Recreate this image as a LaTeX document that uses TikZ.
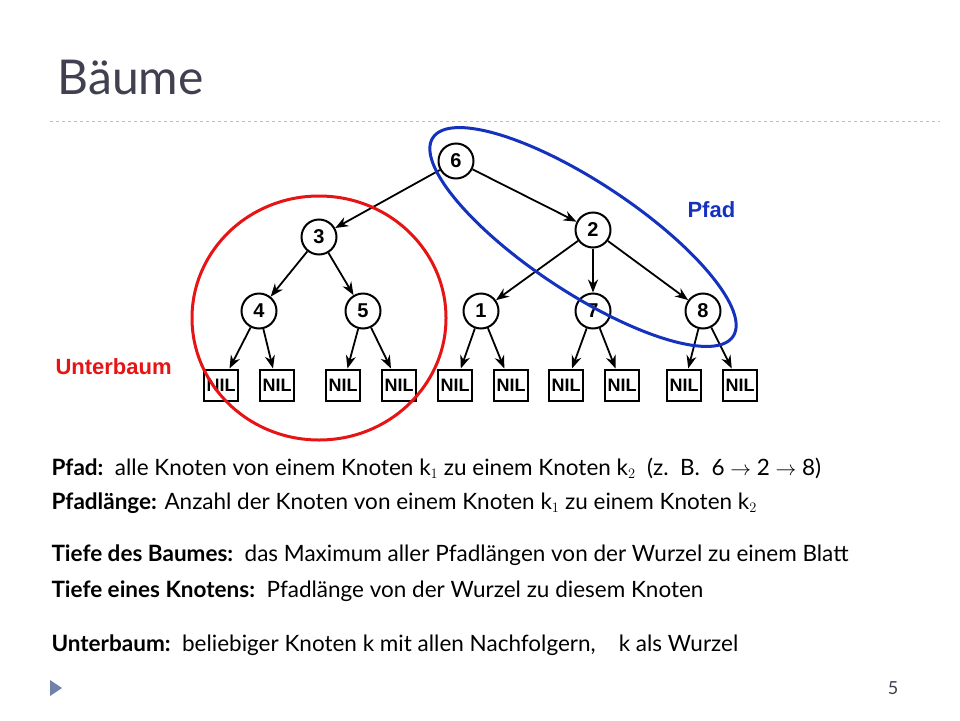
\documentclass[tikz,border=0pt]{standalone}
\usepackage{fontspec}
\setmainfont{Lato}
\setsansfont{Liberation Sans}
\usetikzlibrary{arrows.meta}
\definecolor{titlegrey}{RGB}{64,64,80}
\definecolor{pathblue}{RGB}{20,50,190}
\definecolor{subred}{RGB}{230,20,20}
\definecolor{bulletblue}{RGB}{110,130,170}
\tikzset{tree-node/.style={draw, circle, line width=2pt, minimum size=35pt, inner sep=0pt, font=\sffamily\bfseries\fontsize{20}{20}\selectfont}}
\tikzset{nil-node/.style={draw, rectangle, line width=2pt, minimum width=34pt, minimum height=31pt, inner sep=0pt, font=\sffamily\bfseries\fontsize{18}{18}\selectfont}}
\tikzset{tree-path/.style={-{Stealth[length=13pt,width=10pt]}, draw, line width=1.8pt}}
\tikzset{text-line/.style={anchor=west, font=\fontsize{22.5}{24}\selectfont}}
\begin{document}
\begin{tikzpicture}[x=1pt, y=-1pt]
	\useasboundingbox (0,0) rectangle (960,720);
	% title
	\node[anchor=west, text=titlegrey, font=\fontsize{48}{48}\selectfont](title) at (54,77) {Bäume};
	\draw[dashed, gray!50] (50,121) -- (940,121);
	
	% tree nodes
	\node[tree-node](n6) at (456,161) {6};
	\node[tree-node](n3) at (319,237) {3};
	\node[tree-node](n2) at (593,230) {2};
	\node[tree-node](n4) at (259,311) {4};
	\node[tree-node](n5) at (363,311) {5};
	\node[tree-node](n1) at (481,311) {1};
	\node[tree-node](n7) at (593,311) {7};
	\node[tree-node](n8) at (703,311) {8};
	
	% nil boxes
	\foreach \x [count=\i] in {221,277,343,399,455,511,566,622,684,740}
		\node[nil-node](nil\i) at (\x,385) {NIL};
	
	% tree paths
	\path[tree-path](n6) -- (n3);
	\path[tree-path](n6) -- (n2);
	\path[tree-path](n3) -- (n4);
	\path[tree-path](n3) -- (n5);
	\path[tree-path](n2) -- (n1);
	\path[tree-path](n2) -- (n7);
	\path[tree-path](n2) -- (n8);
	
	% nil paths
	\path[tree-path](n4) -- (nil1);
	\path[tree-path](n4) -- (nil2);
	\path[tree-path](n5) -- (nil3);
	\path[tree-path](n5) -- (nil4);
	\path[tree-path](n1) -- (nil5);
	\path[tree-path](n1) -- (nil6);
	\path[tree-path](n7) -- (nil7);
	\path[tree-path](n7) -- (nil8);
	\path[tree-path](n8) -- (nil9);
	\path[tree-path](n8) -- (nil10);
	
	% marks
	\draw[subred, line width=3pt] (319,318) ellipse [x radius=127, y radius=122];
	\draw[pathblue, line width=3pt, rotate around={-33.5:(583,237)}] (583,237) ellipse [x radius=180, y radius=55];
	\node[anchor=west, text=pathblue, font=\sffamily\bfseries\fontsize{22}{22}\selectfont](pfad) at (684,210) {Pfad};
	\node[anchor=west, text=subred, font=\sffamily\bfseries\fontsize{22}{22}\selectfont](unterbaum) at (52,367) {Unterbaum};
	
	% text
	\node[text-line](t1) at (48,468) {\textbf{Pfad:}\ \ alle Knoten von einem Knoten k$_1$ zu einem Knoten k$_2$\ \ (z.\ \ B.\ \ 6 $\rightarrow$ 2 $\rightarrow$ 8)};
	\node[text-line](t2) at (48,503) {\textbf{Pfadlänge:} Anzahl der Knoten von einem Knoten k$_1$ zu einem Knoten k$_2$};
	\node[text-line](t3) at (48,555) {\textbf{Tiefe des Baumes:}\ \ das Maximum aller Pfadlängen von der Wurzel zu einem Blatt};
	\node[text-line](t4) at (48,591) {\textbf{Tiefe eines Knotens:}\ \ Pfadlänge von der Wurzel zu diesem Knoten};
	\node[text-line](t5) at (48,645) {\textbf{Unterbaum:}\ \ beliebiger Knoten k mit allen Nachfolgern,\ \ \ \ k als Wurzel};
	
	% footer
	\fill[bulletblue] (50,680) -- (62,688) -- (50,696) -- cycle;
	\node[text=titlegrey, font=\fontsize{18}{18}\selectfont](page) at (893,688) {5};
\end{tikzpicture}
\end{document}
